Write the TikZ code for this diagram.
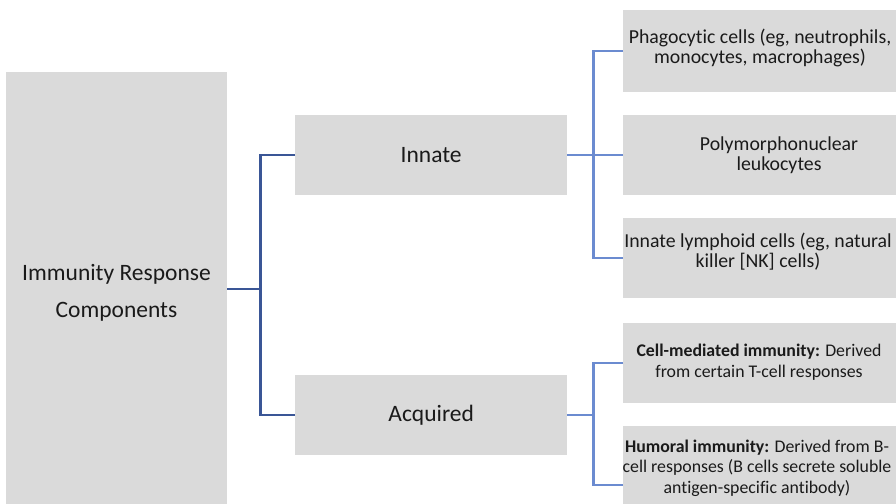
\documentclass[tikz,border=0pt]{standalone}
\usepackage{fontspec}
\setmainfont[Ligatures=NoCommon]{Carlito}
\definecolor{boxgray}{HTML}{DADADA}
\definecolor{darkline}{HTML}{3A5696}
\definecolor{lightline}{HTML}{6B8BD0}
\definecolor{txt}{HTML}{1A1A1A}
\begin{document}
\begin{tikzpicture}[x=1pt,y=-1pt,
  box/.style={fill=boxgray, draw=none, inner sep=0pt, anchor=north west, text=txt},
  bigtext/.style={font=\fontsize{23.5}{37}\selectfont, align=center, text=txt},
  smalltext/.style={font=\fontsize{19.8}{20}\selectfont, align=center, inner sep=0pt, text=txt},
  acqtext/.style={font=\fontsize{17.8}{20.5}\selectfont, align=center, inner sep=0pt, text=txt},
  dk/.style={draw=darkline, line width=2.2pt},
  lt/.style={draw=lightline, line width=2.2pt}]
\useasboundingbox (0,0) rectangle (896,503);
\clip (0,0) rectangle (896,503);
% level 0
\node[box, minimum width=221pt, minimum height=434pt] (root) at (6,72) {};
\node[bigtext] (roottext) at (116.5,292.5) {Immunity Response\\Components};
% level 1
\node[box, minimum width=272pt, minimum height=80pt, bigtext] (innate) at (295,115) {Innate};
\node[box, minimum width=272pt, minimum height=80pt, bigtext] (acq) at (295,375) {Acquired};
% level 2
\node[box, minimum width=285pt, minimum height=82pt] (b1) at (623,10) {};
\node[box, minimum width=285pt, minimum height=80pt] (b2) at (623,115) {};
\node[box, minimum width=285pt, minimum height=80pt] (b3) at (623,218) {};
\node[box, minimum width=285pt, minimum height=80pt] (b4) at (623,323) {};
\node[box, minimum width=285pt, minimum height=118pt] (b5) at (623,426) {};
\node[smalltext] (t1) at (760,48) {Phagocytic cells (eg, neutrophils,\\monocytes, macrophages)};
\node[smalltext] (t2) at (779,155) {Polymorphonuclear\\leukocytes};
\node[smalltext] (t3) at (758,252) {Innate lymphoid cells (eg, natural\\killer [NK] cells)};
\node[acqtext] (t4) at (759,362) {\textbf{Cell-mediated immunity:} Derived\\from certain T-cell responses};
\node[acqtext] (t5) at (757,468) {\textbf{Humoral immunity:} Derived from B-\\cell responses (B cells secrete soluble\\antigen-specific antibody)};
% connectors
\draw[dk] (root.east) -- ++(33,0) coordinate (j1);
\draw[dk] (innate.west) -| (j1);
\draw[dk] (acq.west) -| (j1);
\draw[lt] (innate.east) -- ++(26,0) coordinate (j2);
\draw[lt] (b1.west) -| (j2);
\draw[lt] (b2.west) -- (j2);
\draw[lt] (b3.west) -| (j2);
\draw[lt] (acq.east) -- ++(26,0) coordinate (j3);
\draw[lt] (b4.west) -| (j3);
\draw[lt] (b5.west) -| (j3);
\end{tikzpicture}
\end{document}
